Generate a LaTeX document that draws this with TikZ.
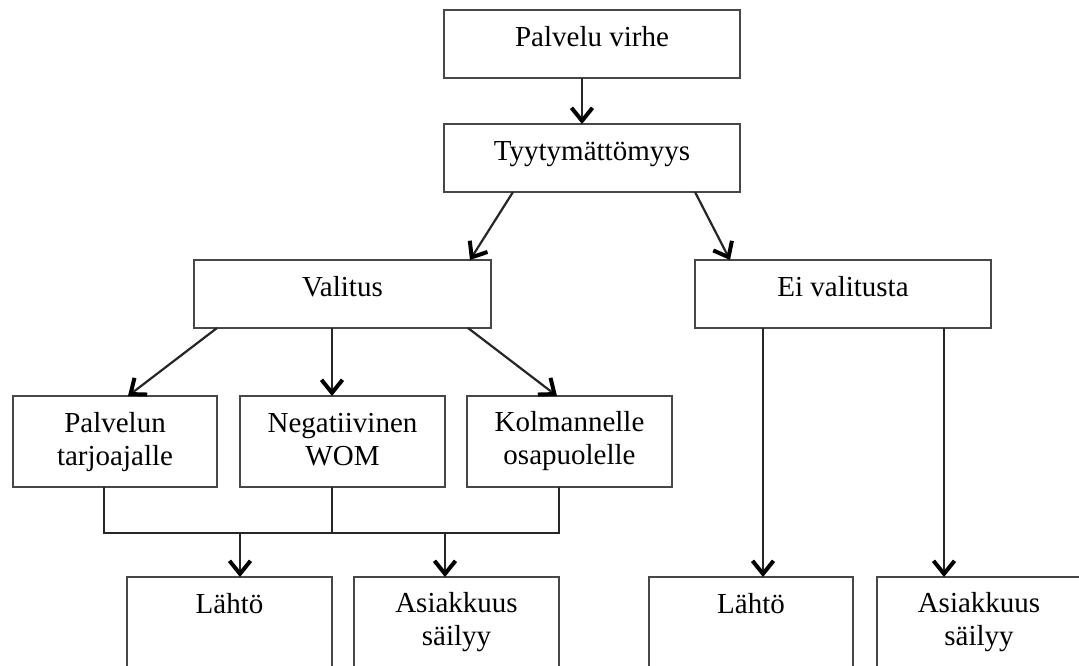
\documentclass[tikz,border=0pt]{standalone}
\usepackage{fontspec}
\setmainfont{Liberation Serif}
\usetikzlibrary{arrows.meta}
% invisible strut that fixes the height of a label's first line
\newcommand\lnstrut{\rule{0pt}{24pt}}
\begin{document}
\begin{tikzpicture}[x=1pt,y=-1pt,
  box/.style={draw=black!72, line width=2.2pt, outer sep=0pt, inner sep=0pt, rectangle, fill=white},
  lbl/.style={anchor=north, inner sep=0pt, align=center, text=black, font=\fontsize{29}{33}\selectfont},
  link/.style={draw=black!85, line width=2.2pt},
  arr/.style={link, -{Straight Barb[length=13pt,width=21pt,line width=4pt,color=black]}}]
\useasboundingbox (0,0) rectangle (1079,665);
\fill[white] (0,0) rectangle (1079,665);
\clip (0,0) rectangle (1079,665);

% boxes
\node[box, minimum width=296pt, minimum height=68pt] (pv) at (592,44) {};
\node[box, minimum width=296pt, minimum height=68pt] (ty) at (592,158) {};
\node[box, minimum width=297pt, minimum height=68pt] (va) at (342.5,294) {};
\node[box, minimum width=296pt, minimum height=68pt] (ei) at (843,294) {};
\node[box, minimum width=204pt, minimum height=91pt] (pa) at (115,441.5) {};
\node[box, minimum width=205pt, minimum height=91pt] (ne) at (342.5,441.5) {};
\node[box, minimum width=205pt, minimum height=91pt] (ko) at (569.5,441.5) {};
\node[box, minimum width=205pt, minimum height=120pt] (l1) at (229.5,637) {};
\node[box, minimum width=205pt, minimum height=120pt] (a1) at (456.5,637) {};
\node[box, minimum width=204pt, minimum height=120pt] (l2) at (751,637) {};
\node[box, minimum width=204pt, minimum height=120pt] (a2) at (979,637) {};

% labels
\node[lbl] (pvt) at ([yshift=-12pt]pv.north) {\lnstrut Palvelu virhe};
\node[lbl] (tyt) at ([yshift=-12pt]ty.north) {\lnstrut Tyytymättömyys};
\node[lbl] (vat) at ([yshift=-12pt]va.north) {\lnstrut Valitus};
\node[lbl] (eit) at ([yshift=-12pt]ei.north) {\lnstrut Ei valitusta};
\node[lbl] (pat) at ([yshift=-12pt]pa.north) {\lnstrut Palvelun\\tarjoajalle};
\node[lbl] (net) at ([yshift=-12pt]ne.north) {\lnstrut Negatiivinen\\WOM};
\node[lbl] (kot) at ([yshift=-11pt]ko.north) {\lnstrut Kolmannelle\\osapuolelle};
\node[lbl] (l1t) at ([yshift=-12pt]l1.north) {\lnstrut Lähtö};
\node[lbl] (a1t) at ([yshift=-11pt]a1.north) {\lnstrut Asiakkuus\\säilyy};
\node[lbl] (l2t) at ([yshift=-12pt]l2.north) {\lnstrut Lähtö};
\node[lbl] (a2t) at ([yshift=-11pt]a2.north) {\lnstrut Asiakkuus\\säilyy};

% connectors
\draw[arr] ([xshift=-10pt]pv.south) -- ([xshift=-10pt]ty.north);
\draw[arr] ([xshift=69pt]ty.south west) -- ([xshift=-21pt]va.north east);
\draw[arr] ([xshift=-45pt]ty.south east) -- ([xshift=35pt]ei.north west);
\draw[arr] ([xshift=23pt]va.south west) -- ([xshift=115pt]pa.north west);
\draw[arr] ([xshift=-10.5pt]va.south) -- ([xshift=-10.5pt]ne.north);
\draw[arr] ([xshift=-23pt]va.south east) -- ([xshift=90pt]ko.north west);

% merging of the three complaint channels
\coordinate (jn) at (332,533);
\draw[link] ([xshift=-11pt]pa.south) |- (jn) -| ([xshift=-10.5pt]ko.south);
\draw[link] ([xshift=-10.5pt]ne.south) -- (jn);
\draw[arr] ([xshift=10.5pt]l1.north |- jn) -- ([xshift=10.5pt]l1.north);
\draw[arr] ([xshift=-11.5pt]a1.north |- jn) -- ([xshift=-11.5pt]a1.north);

% outcomes without complaint
\draw[arr] ([xshift=12pt]l2.north |- ei.south) -- ([xshift=12pt]l2.north);
\draw[arr] ([xshift=-35pt]a2.north |- ei.south) -- ([xshift=-35pt]a2.north);
\end{tikzpicture}
\end{document}
